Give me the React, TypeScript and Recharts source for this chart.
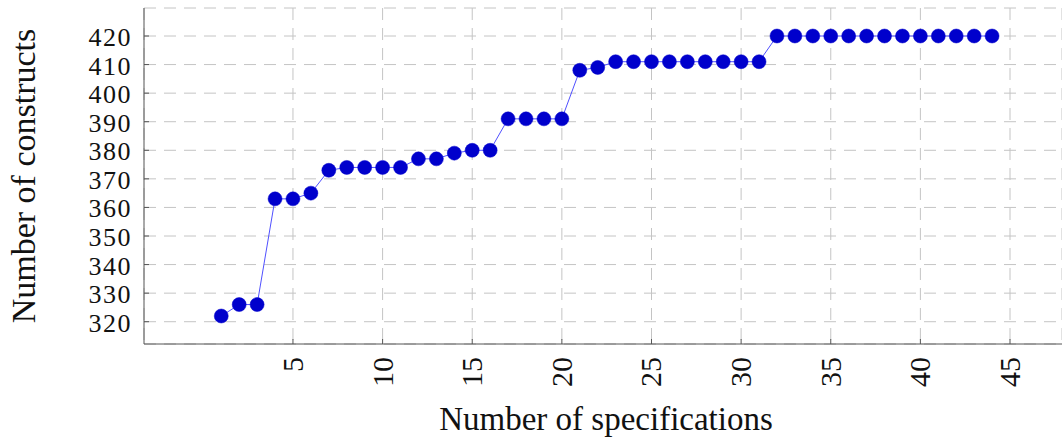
import { LineChart, Line, XAxis, YAxis, CartesianGrid, Label } from "recharts";

const specs = [
  1, 2, 3, 4, 5, 6, 7, 8, 9, 10, 11, 12, 13, 14, 15, 16, 17, 18, 19, 20, 21, 22,
  23, 24, 25, 26, 27, 28, 29, 30, 31, 32, 33, 34, 35, 36, 37, 38, 39, 40, 41, 42,
  43, 44,
];
const constructs = [
  322, 326, 326, 363, 363, 365, 373, 374, 374, 374, 374, 377, 377, 379, 380, 380,
  391, 391, 391, 391, 408, 409, 411, 411, 411, 411, 411, 411, 411, 411, 411, 420,
  420, 420, 420, 420, 420, 420, 420, 420, 420, 420, 420, 420,
];
const xTicks = [5, 10, 15, 20, 25, 30, 35, 40, 45];
const yTicks = [320, 330, 340, 350, 360, 370, 380, 390, 400, 410, 420];

const data = specs.map((s, i) => ({ s, c: constructs[i] }));

const font = '"Liberation Serif", "DejaVu Serif", serif';
const frame = "#555";
const ink = "#111";

const LeftTick = ({ x, y, payload }: any) => (
  <g>
    <line x1={x} x2={x + 5} y1={y} y2={y} stroke={frame} />
    <text
      x={x - 12}
      y={y}
      dy={10}
      textAnchor="end"
      style={{ fontFamily: font, fontSize: 26, fill: ink, letterSpacing: 1.5 }}
    >
      {payload.value}
    </text>
  </g>
);

const RightTick = ({ x, y }: any) => (
  <line x1={x} x2={x - 5} y1={y} y2={y} stroke={frame} />
);

const BottomTick = ({ x, y, payload }: any) => (
  <g>
    <line x1={x} x2={x} y1={y} y2={y - 5} stroke={frame} />
    <text
      transform={`translate(${x + 10},${y + 13}) rotate(-90)`}
      textAnchor="end"
      style={{ fontFamily: font, fontSize: 30, fill: ink }}
    >
      {payload.value}
    </text>
  </g>
);

const TopTick = ({ x, y }: any) => (
  <line x1={x} x2={x} y1={y} y2={y + 5} stroke={frame} />
);

export default function App() {
  return (
    <div style={{ position: "absolute", left: 0, top: 0, background: "#fff" }}>
      <LineChart
        width={1062}
        height={438}
        data={data}
        margin={{ top: 8, right: 0, left: 0, bottom: 0 }}
      >
        <CartesianGrid stroke="#c4c4c4" strokeDasharray="12 8" />
        <XAxis
          dataKey="s"
          type="number"
          domain={[-3.31, 47.9]}
          allowDataOverflow
          ticks={xTicks}
          height={94}
          tickSize={0}
          tickMargin={0}
          tickLine={false}
          axisLine={{ stroke: frame }}
          tick={<BottomTick />}
          interval={0}
        >
          <Label
            content={() => (
              <text
                x={606}
                y={430}
                textAnchor="middle"
                style={{ fontFamily: font, fontSize: 33, fill: ink }}
              >
                Number of specifications
              </text>
            )}
          />
        </XAxis>
        <XAxis
          xAxisId="top"
          orientation="top"
          type="number"
          domain={[-3.31, 47.9]}
          allowDataOverflow
          ticks={xTicks}
          height={0}
          tickSize={0}
          tickMargin={0}
          tickLine={false}
          axisLine={{ stroke: frame }}
          tick={<TopTick />}
          interval={0}
        />
        <YAxis
          type="number"
          domain={[312.2, 429.8]}
          allowDataOverflow
          ticks={yTicks}
          width={144}
          tickSize={0}
          tickMargin={0}
          tickLine={false}
          axisLine={{ stroke: frame }}
          tick={<LeftTick />}
          interval={0}
        >
          <Label
            content={() => (
              <text
                transform="translate(35,176) rotate(-90)"
                textAnchor="middle"
                style={{ fontFamily: font, fontSize: 34, fill: ink }}
              >
                Number of constructs
              </text>
            )}
          />
        </YAxis>
        <YAxis
          yAxisId="right"
          orientation="right"
          type="number"
          domain={[312.2, 429.8]}
          allowDataOverflow
          ticks={yTicks}
          width={0}
          tickSize={0}
          tickMargin={0}
          tickLine={false}
          axisLine={{ stroke: frame }}
          tick={<RightTick />}
          interval={0}
        />
        <Line
          dataKey="c"
          type="linear"
          stroke="#5050ff"
          strokeWidth={1}
          dot={{ r: 7, fill: "#0000cc", stroke: "#0000cc", strokeWidth: 0.5 }}
          activeDot={false}
          isAnimationActive={false}
        />
      </LineChart>
    </div>
  );
}
